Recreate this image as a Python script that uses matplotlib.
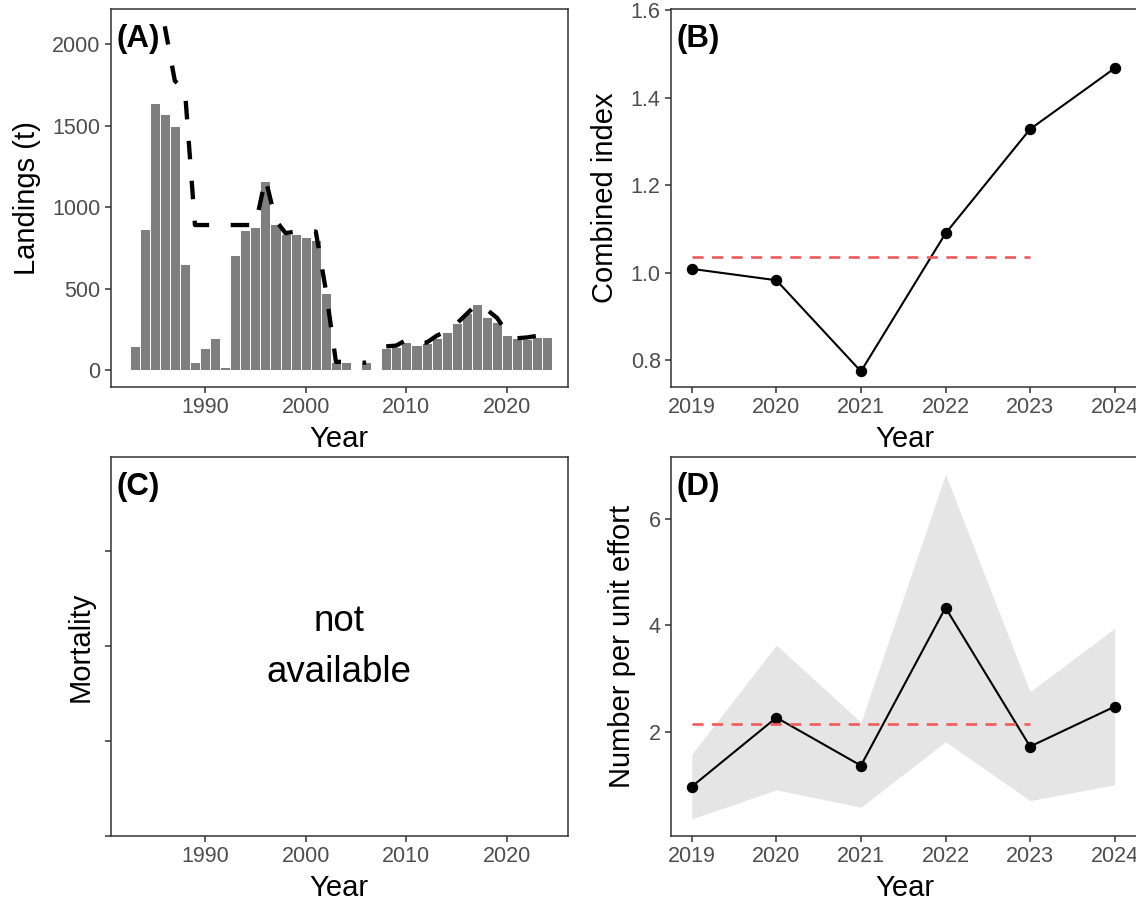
import numpy as np
import matplotlib
matplotlib.use("Agg")
import matplotlib.pyplot as plt

plt.rcParams['font.family'] = ['Liberation Sans', 'DejaVu Sans']

# panel A: landings (t) and the dashed reference line
years_a = np.arange(1983, 2025)
landings = [147, 866, 1640, 1574, 1496, 653, 49, 137, 198, 20,
            704, 859, 879, 1160, 896, 832, 832, 818, 800, 470,
            50, 50, 5, 50, np.nan, 137, 143, 174, 153, 164,
            194, 235, 286, 348, 405, 327, 297, 215, 198, 188,
            200, 200]
years_line = np.arange(1986, 2025)
line_a = [2110, 1775, 1720, 890, 890, 890, 890, 890, 890, 890,
          1175, 920, 840, 850, 855, 850, 490, 50, 50, 45,
          45, np.nan, 145, 150, 185, 170, 168, 210, 240, 285,
          345, 405, 370, 320, 230, 195, 200, 210, 222]

# panel B: combined index
years_b = [2019, 2020, 2021, 2022, 2023, 2024]
index_b = [1.009, 0.983, 0.775, 1.090, 1.328, 1.467]
ref_years = [2019, 2023]
ref_b = 1.037

# panel D: number per unit effort with interval
npue = [0.968, 2.263, 1.362, 4.326, 1.72, 2.469]
npue_lo = [0.362, 0.906, 0.58, 1.81, 0.705, 1.0]
npue_hi = [1.576, 3.626, 2.176, 6.83, 2.75, 3.94]
ref_d = 2.139

W, H = 1136, 905
fig = plt.figure(figsize=(W / 100, H / 100), dpi=100)


def rect(l, r, t, b):
    return [l / W, 1 - b / H, (r - l) / W, (b - t) / H]


tick_col = '#4D4D4D'
red = '#F05A5A'
title_fs = 21


def style(ax):
    for s in ax.spines.values():
        s.set_color('#333333')
        s.set_linewidth(1.1)
    ax.tick_params(length=4.2, width=1.1, color='#333333', labelsize=15.5,
                   labelcolor=tick_col, pad=3)


axA = fig.add_axes(rect(110.7, 568, 8.7, 386.7))
axB = fig.add_axes(rect(670.7, 1140, 8.7, 386.7))
axC = fig.add_axes(rect(110.7, 568, 457.3, 836))
axD = fig.add_axes(rect(670.7, 1140, 457.3, 836))

# (A)
axA.bar(years_a, landings, width=1.0, color='#7F7F7F', edgecolor='white', linewidth=0.7)
axA.plot(years_line, line_a, color='black', lw=3.1, dashes=(4.3, 5.0))
axA.set_xlim(1980.63, 2026.05)
axA.set_ylim(-102.5, 2218)
axA.set_yticks([0, 500, 1000, 1500, 2000])
axA.set_xticks([1990, 2000, 2010, 2020])
axA.set_ylabel('Landings (t)', fontsize=title_fs)
axA.yaxis.set_label_coords(-0.152, 0.5)

# (B)
axB.plot(years_b, index_b, color='black', lw=1.5, marker='o', ms=7.2)
axB.plot(ref_years, [ref_b, ref_b], color=red, lw=1.9, dashes=(4.2, 3.2))
axB.set_xlim(2018.75, 2024.3)
axB.set_ylim(0.74, 1.603)
axB.set_yticks([0.8, 1.0, 1.2, 1.4, 1.6])
axB.set_yticklabels(['0.8', '1.0', '1.2', '1.4', '1.6'])
axB.set_xticks(years_b)
axB.set_ylabel('Combined index', fontsize=title_fs)
axB.yaxis.set_label_coords(-0.11, 0.5)

# (C)
axC.set_xlim(1980.63, 2026.05)
axC.set_ylim(0, 3.98)
axC.set_yticks([0, 1, 2, 3])
axC.set_yticklabels([])
axC.set_xticks([1990, 2000, 2010, 2020])
axC.set_ylabel('Mortality', fontsize=title_fs)
axC.yaxis.set_label_coords(-0.036, 0.5)
axC.text(0.5, 0.5, 'not\navailable', transform=axC.transAxes, ha='center',
         va='center', fontsize=26.5, linespacing=1.6)

# (D)
axD.fill_between(years_b, npue_lo, npue_hi, color='#E5E5E5', lw=0)
axD.plot(years_b, npue, color='black', lw=1.5, marker='o', ms=7.2)
axD.plot(ref_years, [ref_d, ref_d], color=red, lw=1.9, dashes=(4.2, 3.2))
axD.set_xlim(2018.75, 2024.3)
axD.set_ylim(0.04, 7.15)
axD.set_yticks([2, 4, 6])
axD.set_xticks(years_b)
axD.set_ylabel('Number per unit effort', fontsize=title_fs)
axD.yaxis.set_label_coords(-0.074, 0.5)

for ax, lab in zip([axA, axB, axC, axD], ['(A)', '(B)', '(C)', '(D)']):
    style(ax)
    ax.set_xlabel('Year', fontsize=title_fs)
    ax.xaxis.set_label_coords(0.5, -0.1)
    ax.text(0.012, 0.96, lab, transform=ax.transAxes, ha='left', va='top',
            fontsize=22.5, fontweight='bold')

fig.savefig('out.png', dpi=100)
